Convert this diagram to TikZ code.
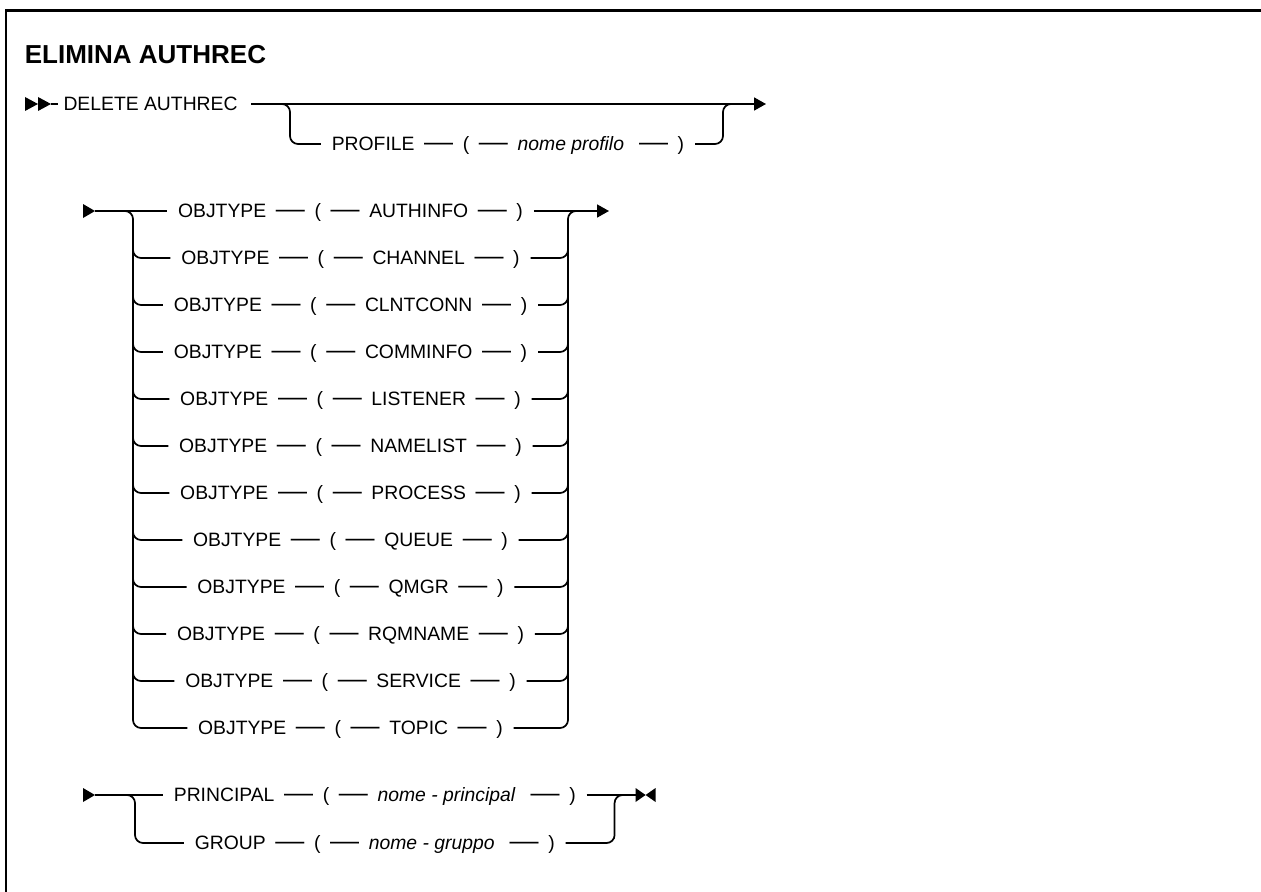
\documentclass[tikz,border=0pt]{standalone}
\usepackage{fontspec}
\setmainfont{Liberation Sans}
\usetikzlibrary{arrows.meta}
\newcommand\dsh{\hspace{0.5em}\scalebox{1.5}[1.3]{—}\hspace{0.5em}}
\newcommand\rowtxt[2]{#1\dsh(\dsh#2\dsh)}
\begin{document}
\begin{tikzpicture}[x=0.75pt,y=-0.75pt,line width=1.3pt,
  row/.style={inner xsep=7.5pt,inner ysep=0pt,text height=10.4pt,text depth=0pt,font=\fontsize{14.5}{17}\selectfont},
  rail/.style={rounded corners=6pt},
  tip/.style={-{Triangle[length=9pt,width=9.75pt]}},
  head/.style={fill=black,draw=none}]
\useasboundingbox (0,0) rectangle (1261,892);
% frame
\draw[line width=2pt] (6,892) -- (6,10.5) -- (1261,10.5);
% title
\node[anchor=base west,inner sep=0pt,font=\bfseries\fontsize{19.5}{23}\selectfont] (title) at (24,64) {ELIMINA AUTHREC};

% ---- section 1
\fill[head] (25,97) -- (38,104) -- (25,111) -- cycle;
\fill[head] (38,97) -- (51,104) -- (38,111) -- cycle;
\coordinate (s1) at (51,104);
\node[row,anchor=west,inner xsep=3.5pt] (del) at (58,104) {DELETE AUTHREC};
\node[row] (prof) at (508,144) {\rowtxt{PROFILE}{\textit{nome profilo}\ }};
\coordinate (b1) at (290,104);
\coordinate (c1) at (723,104);
\coordinate (e1) at (766,104);
\draw (s1) -- (del.west);
\draw[tip,shorten <=6pt] (del.east) -- (e1);
\draw[rail] ([xshift=-9pt]b1) -- (b1) -- (b1 |- prof) -- (prof.west);
\draw[rail] (prof.east) -- (c1 |- prof) -- (c1) -- ([xshift=9pt]c1);

% ---- section 2
\fill[head] (83,204) -- (95,211) -- (83,218) -- cycle;
\coordinate (s2) at (95,211);
\coordinate (L2) at (133,211);
\coordinate (R2) at (568,211);
\coordinate (e2) at (609,211);
\foreach \k/\w in {1/AUTHINFO,2/CHANNEL,3/CLNTCONN,4/COMMINFO,5/LISTENER,6/NAMELIST,7/PROCESS,8/QUEUE,9/QMGR,10/RQMNAME,11/SERVICE,12/TOPIC}
  \node[row] (o\k) at (350.5,{211+47*(\k-1)}) {\rowtxt{OBJTYPE}{\w}};
\draw (s2) -- (o1.west);
\draw[tip] (o1.east) -- (e2);
\draw[rail] ([xshift=-9pt]L2) -- (L2) -- (L2 |- o12) -- (o12.west);
\draw[rail] (o12.east) -- (R2 |- o12) -- (R2) -- ([xshift=9pt]R2);
\foreach \k in {2,...,11} {
  \draw[rail] (L2 |- o\k) ++(0,-12) -- (L2 |- o\k) -- (o\k.west);
  \draw[rail] (o\k.east) -- (R2 |- o\k) -- ++(0,-12);
}

% ---- section 3
\fill[head] (83,788) -- (95,795) -- (83,802) -- cycle;
\coordinate (s3) at (95,795);
\node[row,anchor=west] (pr) at (163,795) {\rowtxt{PRINCIPAL}{\textit{nome - principal}\ }};
\node[row] (gr) at ([yshift=-36pt]pr.center) {\rowtxt{GROUP}{\textit{nome - gruppo}\ }};
\coordinate (L3) at (135,795);
\coordinate (R3) at ([xshift=21pt]pr.east);
\coordinate (e3) at ([xshift=15.75pt]R3);
\draw (s3) -- (pr.west);
\draw (pr.east) -- (e3);
\draw[rail] ([xshift=-9pt]L3) -- (L3) -- (L3 |- gr) -- (gr.west);
\draw[rail] (gr.east) -- (R3 |- gr) -- (R3) -- ([xshift=9pt]R3);
\fill[head] (e3) ++(0,-7) -- ++(20,14) -- ++(0,-14) -- ++(-20,14) -- cycle;
\end{tikzpicture}
\end{document}
